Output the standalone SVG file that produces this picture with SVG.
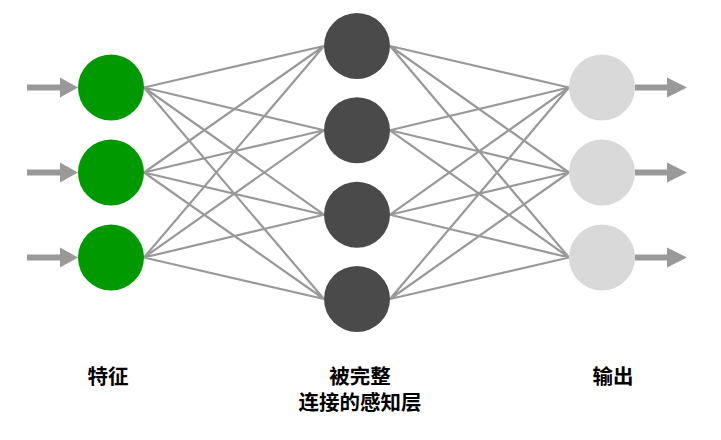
<svg xmlns="http://www.w3.org/2000/svg" width="721" height="440" viewBox="0 0 721 440">
<defs>
<style>
.c{stroke:#999999;stroke-width:2.2;fill:none}
.a{fill:#999999}
.in{fill:#009900}
.hid{fill:#4a4a4a}
.out{fill:#d9d9d9}
.t{font-family:"Noto Sans CJK SC","Noto Sans CJK TC",sans-serif;font-size:20.5px;font-weight:bold;fill:#000;text-anchor:middle}
</style>
</defs>
<rect width="721" height="440" fill="#ffffff"/>
<g id="connectors">
<path class="c" d="M144,87.5L324,46M144,87.5L324,130.3M144,87.5L324,214.7M144,87.5L324,299
M144,172.5L324,46M144,172.5L324,130.3M144,172.5L324,214.7M144,172.5L324,299
M144,257.5L324,46M144,257.5L324,130.3M144,257.5L324,214.7M144,257.5L324,299
M390,46L569,87.5M390,46L569,172.5M390,46L569,257.5
M390,130.3L569,87.5M390,130.3L569,172.5M390,130.3L569,257.5
M390,214.7L569,87.5M390,214.7L569,172.5M390,214.7L569,257.5
M390,299L569,87.5M390,299L569,172.5M390,299L569,257.5"/>
<path class="a" d="M27,84.5H60V77.5L78,87.5L60,97.5V90.5H27Z"/>
<path class="a" d="M27,169.5H60V162.5L78,172.5L60,182.5V175.5H27Z"/>
<path class="a" d="M27,254.5H60V247.5L78,257.5L60,267.5V260.5H27Z"/>
<path class="a" d="M635,84.5H667V77.5L687,87.5L667,97.5V90.5H635Z"/>
<path class="a" d="M635,169.5H667V162.5L687,172.5L667,182.5V175.5H635Z"/>
<path class="a" d="M635,254.5H667V247.5L687,257.5L667,267.5V260.5H635Z"/>
</g>
<g id="in1"><circle class="in" cx="111" cy="87.5" r="33"/></g>
<g id="in2"><circle class="in" cx="111" cy="172.5" r="33"/></g>
<g id="in3"><circle class="in" cx="111" cy="257.5" r="33"/></g>
<g id="h1"><circle class="hid" cx="357" cy="46" r="33"/></g>
<g id="h2"><circle class="hid" cx="357" cy="130.3" r="33"/></g>
<g id="h3"><circle class="hid" cx="357" cy="214.7" r="33"/></g>
<g id="h4"><circle class="hid" cx="357" cy="299" r="33"/></g>
<g id="o1"><circle class="out" cx="602" cy="87.5" r="33"/></g>
<g id="o2"><circle class="out" cx="602" cy="172.5" r="33"/></g>
<g id="o3"><circle class="out" cx="602" cy="257.5" r="33"/></g>
<g id="label-in"><text class="t" x="108" y="384">特征</text></g>
<g id="label-hidden"><text class="t" x="360" y="384">被完整</text><text class="t" x="360" y="410">连接的感知层</text></g>
<g id="label-out"><text class="t" x="613" y="384">输出</text></g>
</svg>
